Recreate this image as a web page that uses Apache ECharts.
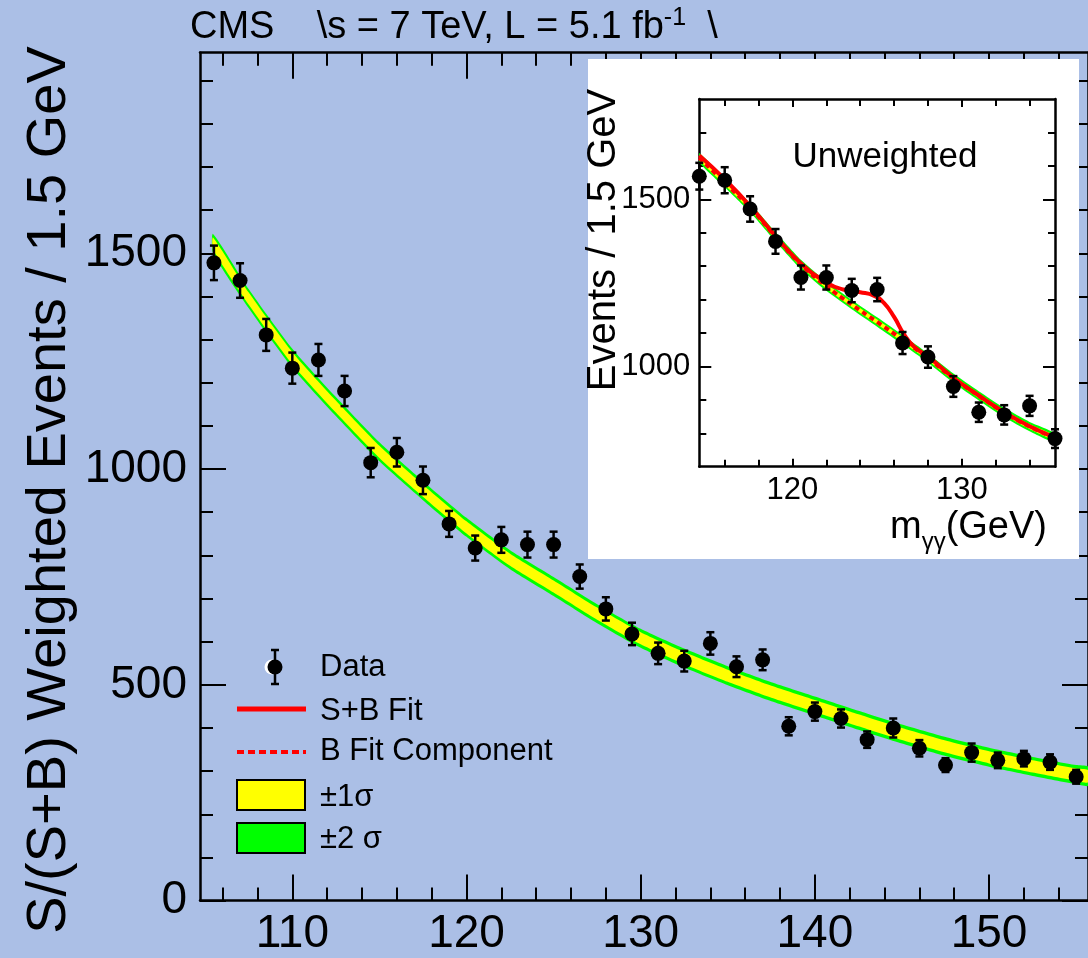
<!DOCTYPE html>
<html>
<head>
<meta charset="utf-8">
<script src="https://cdn.jsdelivr.net/npm/echarts@6/dist/echarts.min.js"></script>
<style>
  html, body { margin: 0; padding: 0; background: #abbfe6; }
  #chart { width: 1088px; height: 958px; }
</style>
</head>
<body>
<div id="chart"></div>
<script>
// main plot: S/(S+B) weighted events, 1.5 GeV bins
const binCenters = [105.5, 107, 108.5, 110, 111.5, 113, 114.5, 116, 117.5, 119, 120.5, 122,
  123.5, 125, 126.5, 128, 129.5, 131, 132.5, 134, 135.5, 137, 138.5, 140, 141.5, 143,
  144.5, 146, 147.5, 149, 150.5, 152, 153.5, 155];
const weightedEvents = [1478, 1437, 1311, 1234, 1253, 1181, 1015, 1039, 974, 873, 817, 836,
  825, 825, 751, 676, 618, 573, 555, 596, 542, 558, 404, 438, 422, 373,
  400, 353, 314, 343, 325, 329, 321, 287];
const weightedErrors = [40, 40, 37, 36, 37, 35, 34, 33, 32, 30, 29, 30,
  30, 30, 28, 27, 26, 25, 24, 26, 24, 24, 21, 21, 21, 19,
  22, 19, 16, 21, 18, 18, 18, 16];

// background fit band (centre and half widths)
const fitMass = [105.45, 107.5, 110, 112.5, 115, 117.5, 120, 122.5, 125, 127.5, 130, 132.5,
  135, 137.5, 140, 142.5, 145, 147.5, 150, 152.5, 155, 155.7];
const fitCenter = [1523, 1395, 1257, 1145, 1040, 950, 865, 790, 728, 665, 608, 562,
  521, 484, 451, 418, 386, 357, 332, 311, 292, 288];
const fitSigma1 = [14, 14, 14, 14, 14, 14, 14, 14, 14, 14, 14, 14,
  14, 14, 14, 14, 14, 14, 14, 14, 14, 14];
const fitSigma2 = [22, 22, 22, 22, 22, 22, 22, 22, 22, 22, 22, 22,
  22, 22, 22, 22, 22, 22, 22, 22, 22, 22];

// inset: unweighted events
const insetMass = [114.5, 116, 117.5, 119, 120.5, 122, 123.5, 125, 126.5, 128, 129.5, 131, 132.5, 134, 135.5];
const insetEvents = [1569, 1557, 1471, 1374, 1266, 1266, 1227, 1230, 1070, 1028, 940, 863, 855, 882, 784];
const insetErrors = [40, 39, 38, 37, 36, 36, 35, 35, 33, 32, 31, 29, 29, 30, 28];

const bFitMass = [114.5, 116, 117.5, 119, 120.5, 122, 123.5, 125, 126.5, 128, 129.5, 131, 132.5, 134, 135.5];
const bFit = [1624, 1550, 1475, 1388, 1305, 1240, 1185, 1133, 1080, 1025, 965, 912, 862, 820, 786];
const bSigma1 = [7, 7, 7, 7, 7, 7, 7, 7, 7, 7, 7, 7, 7, 7, 7];
const bSigma2 = [14, 14, 14, 14, 14, 14, 14, 14, 14, 14, 14, 14, 14, 14, 14];

const sbMass = [114.5, 116, 117.5, 119, 120.5, 122, 123, 124, 124.8, 125.4, 126, 126.6, 127.2, 128, 129.5, 131, 132.5, 134, 135.5];
const sbFit = [1631, 1560, 1480, 1390, 1308, 1252, 1230, 1222, 1212, 1190, 1148, 1095, 1058, 1030, 966, 913, 863, 821, 787];

// ticks
const mainXMajor = [110, 120, 130, 140, 150];
const mainXMinor = [106, 108, 112, 114, 116, 118, 122, 124, 126, 128, 132, 134, 136, 138, 142, 144, 146, 148, 152, 154];
const mainYMajor = [0, 500, 1000, 1500];
const mainYMinor = [100, 200, 300, 400, 600, 700, 800, 900, 1100, 1200, 1300, 1400, 1600, 1700, 1800, 1900];
const insetXTicks = [116, 118, 120, 122, 124, 126, 128, 130, 132, 134];
const insetXLabels = [120, 130];
const insetYMajor = [1000, 1500];
const insetYMinor = [800, 900, 1100, 1200, 1300, 1400, 1600, 1700];

const FONT = '"Liberation Sans", Arial, sans-serif';
const GREEN = '#00ff00';
const YELLOW = '#ffff00';

const chart = echarts.init(document.getElementById('chart'));

function axisPair(grid, pos, min, max, major, minor, majLen, minLen, labels, z) {
  const common = { gridIndex: grid, type: 'value', min: min, max: max, position: pos, z: z,
    splitLine: { show: false } };
  const a = Object.assign({}, common, {
    axisLine: { show: true, onZero: false, lineStyle: { color: '#000', width: 2.5 } },
    axisTick: { show: true, inside: true, length: majLen, customValues: major, lineStyle: { color: '#000', width: 2 } },
    axisLabel: labels ? Object.assign({ show: true, color: '#000', fontFamily: FONT,
                          formatter: v => String(v) }, labels)
                      : { show: false }
  });
  const b = Object.assign({}, common, {
    axisLine: { show: false, onZero: false },
    axisTick: { show: true, inside: true, length: minLen, customValues: minor, lineStyle: { color: '#000', width: 2 } },
    axisLabel: { show: false }
  });
  return [a, b];
}

// yellow +-1 sigma inside green +-2 sigma, drawn as polygons through the axis scales
function bandSeries(mass, center, s1, s2, xi, yi, z) {
  return {
    type: 'custom', xAxisIndex: xi, yAxisIndex: yi, z: z, silent: true, clip: true,
    data: [[mass[0], center[0]]],
    encode: { x: 0, y: 1 },
    renderItem: function (params, api) {
      function poly(half) {
        const up = mass.map((m, i) => api.coord([m, center[i] + half[i]]));
        const dn = mass.map((m, i) => api.coord([m, center[i] - half[i]])).reverse();
        return up.concat(dn);
      }
      return { type: 'group', children: [
        { type: 'polygon', shape: { points: poly(s2), smooth: 0.2 }, style: { fill: GREEN } },
        { type: 'polygon', shape: { points: poly(s1), smooth: 0.2 }, style: { fill: YELLOW } }
      ] };
    }
  };
}

function errorBars(mass, vals, errs, xi, yi, z) {
  return {
    type: 'custom', xAxisIndex: xi, yAxisIndex: yi, z: z, silent: true,
    data: mass.map((m, i) => [m, vals[i], errs[i]]),
    encode: { x: 0, y: 1 },
    renderItem: function (params, api) {
      const x = api.value(0), y = api.value(1), e = api.value(2);
      const hi = api.coord([x, y + e]);
      const lo = api.coord([x, y - e]);
      const st = { stroke: '#000', lineWidth: 2.5 };
      return { type: 'group', children: [
        { type: 'line', shape: { x1: hi[0], y1: hi[1], x2: lo[0], y2: lo[1] }, style: st },
        { type: 'line', shape: { x1: hi[0] - 4, y1: hi[1], x2: hi[0] + 4, y2: hi[1] }, style: st },
        { type: 'line', shape: { x1: lo[0] - 4, y1: lo[1], x2: lo[0] + 4, y2: lo[1] }, style: st }
      ] };
    }
  };
}

const mainX = [104.7, 155.68], mainY = [0, 1965];
const insX = [114.5, 135.5], insY = [700, 1800];

const xAxes = [].concat(
  axisPair(0, 'bottom', mainX[0], mainX[1], mainXMajor, mainXMinor, 26, 13,
    { customValues: mainXMajor, fontSize: 46, margin: 11 }, 0),
  axisPair(0, 'top', mainX[0], mainX[1], mainXMajor, mainXMinor, 26, 13, null, 0),
  axisPair(1, 'bottom', insX[0], insX[1], insetXLabels, insetXTicks, 8, 7,
    { customValues: insetXLabels, fontSize: 31, margin: 8 }, 3),
  axisPair(1, 'top', insX[0], insX[1], insetXLabels, insetXTicks, 8, 7, null, 3)
);
const yAxes = [].concat(
  axisPair(0, 'left', mainY[0], mainY[1], mainYMajor, mainYMinor, 26, 13,
    { customValues: mainYMajor, fontSize: 46, margin: 13 }, 0),
  axisPair(0, 'right', mainY[0], mainY[1], mainYMajor, mainYMinor, 26, 13, null, 0),
  axisPair(1, 'left', insY[0], insY[1], insetYMajor, insetYMinor, 12, 7,
    { customValues: insetYMajor, fontSize: 31, margin: 9 }, 3),
  axisPair(1, 'right', insY[0], insY[1], insetYMajor, insetYMinor, 12, 7, null, 3)
);

// text widths for the header line and the inset axis title
const ctx = document.createElement('canvas').getContext('2d');
function textW(str, size) { ctx.font = size + 'px ' + FONT; return ctx.measureText(str).width; }
const head1 = 'CMS    \\s = 7 TeV, L = 5.1 fb';
const head1W = textW(head1, 38);
const headSupW = textW('-1', 25);
const mW = textW('m', 38), subW = textW('γγ', 24), gevW = textW('(GeV)', 38);
const insTitleRight = 1047;

function txt(x, y, s, size, extra) {
  return Object.assign({ type: 'text', x: x, y: y, z: 10,
    style: { text: s, fill: '#000', font: size + 'px ' + FONT, textAlign: 'left', textVerticalAlign: 'middle',
      align: 'left', verticalAlign: 'middle' } }, extra || {});
}

const graphics = [
  { type: 'rect', z: 1, shape: { x: 588, y: 59, width: 491, height: 500 }, style: { fill: '#fff' } },
  txt(190, 28, head1, 38),
  txt(190 + head1W, 18, '-1', 25),
  txt(190 + head1W + headSupW, 28, '  \\', 38),
  { type: 'text', x: 50, y: 490, rotation: Math.PI / 2, z: 10,
    style: { text: 'S/(S+B) Weighted Events / 1.5 GeV', fill: '#000', font: '56px ' + FONT,
      textAlign: 'center', textVerticalAlign: 'middle', align: 'center', verticalAlign: 'middle' } },
  // inset texts
  { type: 'text', x: 885, y: 157, z: 10,
    style: { text: 'Unweighted', fill: '#000', font: '35px ' + FONT,
      textAlign: 'center', textVerticalAlign: 'middle', align: 'center', verticalAlign: 'middle' } },
  { type: 'text', x: 604, y: 240, rotation: Math.PI / 2, z: 10,
    style: { text: 'Events / 1.5 GeV', fill: '#000', font: '40px ' + FONT,
      textAlign: 'center', textVerticalAlign: 'middle', align: 'center', verticalAlign: 'middle' } },
  txt(insTitleRight - gevW - subW - mW, 528, 'm', 38),
  txt(insTitleRight - gevW - subW, 542, 'γγ', 24),
  txt(insTitleRight - gevW, 528, '(GeV)', 38),
  // legend
  { type: 'circle', z: 10, shape: { cx: 272, cy: 667, r: 7.5 }, style: { fill: '#fff' } },
  { type: 'line', z: 10, shape: { x1: 275, y1: 650, x2: 275, y2: 684 }, style: { stroke: '#000', lineWidth: 2.5 } },
  { type: 'line', z: 10, shape: { x1: 271, y1: 650, x2: 279, y2: 650 }, style: { stroke: '#000', lineWidth: 2.5 } },
  { type: 'line', z: 10, shape: { x1: 271, y1: 684, x2: 279, y2: 684 }, style: { stroke: '#000', lineWidth: 2.5 } },
  { type: 'circle', z: 11, shape: { cx: 275, cy: 667, r: 7.5 }, style: { fill: '#000' } },
  txt(320, 667, 'Data', 31),
  { type: 'line', z: 10, shape: { x1: 237, y1: 709, x2: 306, y2: 709 }, style: { stroke: '#ff0000', lineWidth: 5 } },
  txt(320, 711, 'S+B Fit', 31),
  { type: 'line', z: 10, shape: { x1: 237, y1: 752, x2: 306, y2: 752 }, style: { stroke: '#ff0000', lineWidth: 4, lineDash: [7, 4] } },
  txt(320, 751, 'B Fit Component', 31),
  { type: 'rect', z: 10, shape: { x: 237, y: 780, width: 68, height: 30 }, style: { fill: YELLOW, stroke: '#000', lineWidth: 2 } },
  txt(320, 797, '±1σ', 31),
  { type: 'rect', z: 10, shape: { x: 237, y: 823, width: 68, height: 30 }, style: { fill: GREEN, stroke: '#000', lineWidth: 2 } },
  txt(320, 839, '±2 σ', 31)
];

const series = [
  bandSeries(fitMass, fitCenter, fitSigma1, fitSigma2, 0, 0, 2),
  errorBars(binCenters, weightedEvents, weightedErrors, 0, 0, 3),
  { type: 'scatter', xAxisIndex: 0, yAxisIndex: 0, z: 4, symbol: 'circle', symbolSize: 15,
    itemStyle: { color: '#000', opacity: 1 }, silent: true,
    data: binCenters.map((m, i) => [m, weightedEvents[i]]) },
  bandSeries(bFitMass, bFit, bSigma1, bSigma2, 4, 4, 5),
  { type: 'line', xAxisIndex: 4, yAxisIndex: 4, z: 6, smooth: true, symbol: 'none', silent: true,
    lineStyle: { color: '#ff0000', width: 4, type: [5, 4] },
    data: bFitMass.map((m, i) => [m, bFit[i]]) },
  { type: 'line', xAxisIndex: 4, yAxisIndex: 4, z: 7, smooth: true, symbol: 'none', silent: true,
    lineStyle: { color: '#ff0000', width: 4 },
    data: sbMass.map((m, i) => [m, sbFit[i]]) },
  errorBars(insetMass, insetEvents, insetErrors, 4, 4, 8),
  { type: 'scatter', xAxisIndex: 4, yAxisIndex: 4, z: 9, symbol: 'circle', symbolSize: 15,
    itemStyle: { color: '#000', opacity: 1 }, silent: true,
    data: insetMass.map((m, i) => [m, insetEvents[i]]) }
];

chart.setOption({
  backgroundColor: '#abbfe6',
  animation: false,
  grid: [
    { left: 200, top: 52.7, width: 888, height: 847.9 },
    { left: 699.3, top: 99, width: 355.7, height: 367.7 }
  ],
  xAxis: xAxes,
  yAxis: yAxes,
  graphic: graphics,
  series: series
});
</script>
</body>
</html>
